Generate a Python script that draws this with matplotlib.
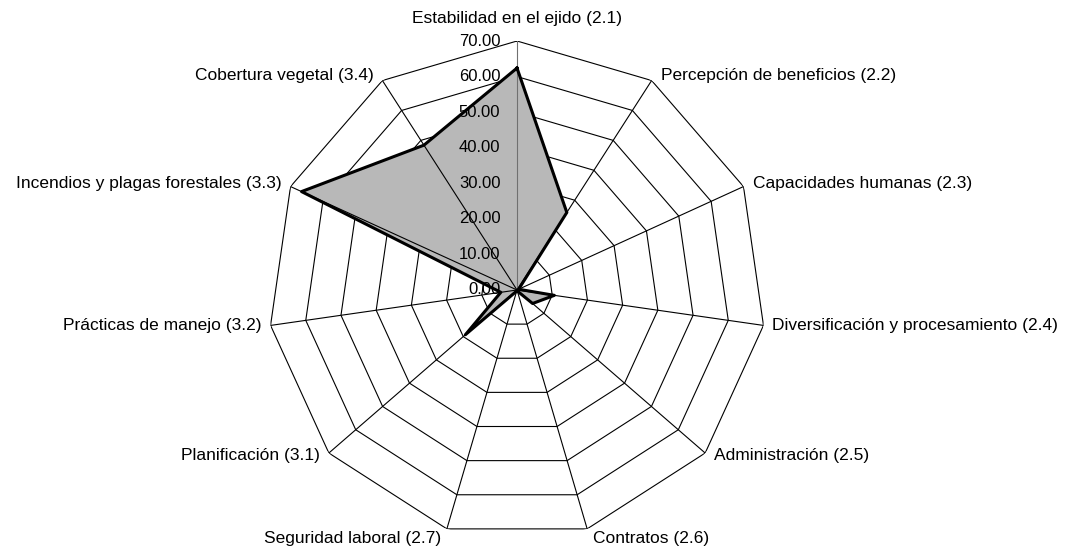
import numpy as np
import matplotlib
matplotlib.use("Agg")
import matplotlib.pyplot as plt

plt.rcParams["font.family"] = ["Liberation Sans", "DejaVu Sans"]

categories = [
    "Estabilidad en el ejido (2.1)",
    "Percepción de beneficios (2.2)",
    "Capacidades humanas (2.3)",
    "Diversificación y procesamiento (2.4)",
    "Administración (2.5)",
    "Contratos (2.6)",
    "Seguridad laboral (2.7)",
    "Planificación (3.1)",
    "Prácticas de manejo (3.2)",
    "Incendios y plagas forestales (3.3)",
    "Cobertura vegetal (3.4)",
]
values = [62.4, 25.9, 0.5, 10.6, 5.8, 0.3, 0.3, 19.2, 4.6, 66.6, 48.4]
rings = [10, 20, 30, 40, 50, 60, 70]

n = len(categories)
theta = np.linspace(0, 2 * np.pi, n, endpoint=False)
theta_c = np.append(theta, theta[0])

fig = plt.figure(figsize=(10.67, 5.5), dpi=100)
ax = fig.add_axes([0.2512, 0.02, 0.4667, 0.9055], projection="polar")
ax.set_theta_zero_location("N")
ax.set_theta_direction(-1)
ax.set_ylim(0, 70)
ax.grid(False)
ax.spines["polar"].set_visible(False)
ax.set_xticks([])
ax.set_yticks([])
ax.patch.set_visible(False)

# polygon rings
for r in rings:
    ax.plot(theta_c, [r] * (n + 1), color="black", lw=0.8, zorder=1)

# data fill
vals_c = values + [values[0]]
ax.fill(theta_c, vals_c, color="#b8b8b8", lw=0, zorder=2)

# spokes
for i, t in enumerate(theta):
    ax.plot([t, t], [0, 70], color="#707070" if i == 0 else "black",
            lw=0.8, zorder=3)

# data outline
ax.plot(theta_c, vals_c, color="black", lw=2.2, zorder=4)

# radial labels
for r in [0] + rings:
    ax.annotate(f"{r:.2f}", xy=(0, r), xytext=(-12, 0),
                textcoords="offset points", ha="right", va="center",
                fontsize=12, zorder=5)

# category labels
for t, lab in zip(theta, categories):
    s, c = np.sin(t), np.cos(t)
    if abs(s) < 0.05:
        ha, va, off = "center", "bottom", (0, 11)
    elif c < -0.9:
        va = "top"
        ha = "left" if s > 0 else "right"
        off = (4 if s > 0 else -4, -1.5)
    else:
        ha = "left" if s > 0 else "right"
        va = "center"
        off = (6.5 if s > 0 else -6.5, 3.5 * c + 0.5)
    ax.annotate(lab, xy=(t, 70), xytext=off, textcoords="offset points",
                ha=ha, va=va, fontsize=12.5, annotation_clip=False)

fig.savefig("out.png", dpi=100)
